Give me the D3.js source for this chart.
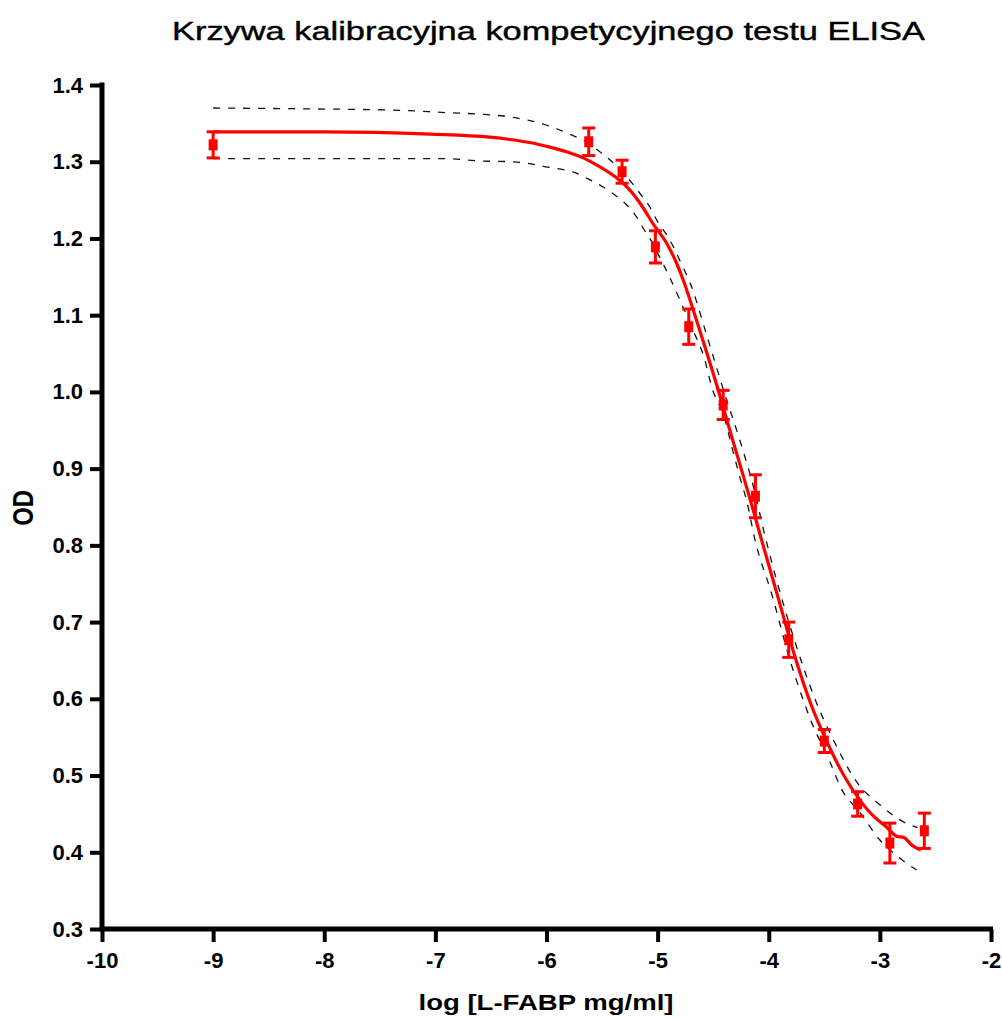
<!DOCTYPE html>
<html>
<head>
<meta charset="utf-8">
<script src="https://cdn.jsdelivr.net/npm/d3@7"></script>
<style>
  html, body { margin: 0; padding: 0; background: #fff; }
  svg { display: block; font-family: "Liberation Sans", Arial, sans-serif; }
</style>
</head>
<body>
<svg id="chart" width="1002" height="1017"></svg>
<script>
// Standards: log concentration, mean OD and its error
const logConc = [-9.0, -5.62, -5.32, -5.02, -4.72, -4.41, -4.12, -3.82, -3.50, -3.20, -2.91, -2.60];
const odMean  = [1.322, 1.326, 1.287, 1.189, 1.085, 0.983, 0.864, 0.677, 0.545, 0.463, 0.412, 0.428];
const odError = [0.017, 0.018, 0.015, 0.021, 0.023, 0.019, 0.028, 0.023, 0.015, 0.016, 0.026, 0.023];

// Fitted calibration curve
const fitX = [-9.00, -8.00, -7.05, -6.51, -6.33, -6.15, -5.97, -5.82, -5.67, -5.55, -5.37, -5.25, -5.135, -5.045, -4.92, -4.83, -4.76, -4.68, -4.59, -4.46, -4.34, -4.22, -4.15, -4.08, -3.91, -3.76, -3.615, -3.47, -3.32, -3.18, -3.05, -2.94, -2.85, -2.78, -2.71, -2.63];
const fitY = [1.339, 1.339, 1.336, 1.332, 1.329, 1.325, 1.319, 1.313, 1.305, 1.296, 1.279, 1.263, 1.241, 1.220, 1.194, 1.168, 1.142, 1.107, 1.066, 1.005, 0.945, 0.886, 0.851, 0.815, 0.729, 0.653, 0.591, 0.542, 0.499, 0.468, 0.446, 0.433, 0.421, 0.419, 0.409, 0.403];

// 95% confidence band of the fit
const upperX = [-9.00, -8.22, -7.32, -6.90, -6.60, -6.31, -6.03, -5.91, -5.76, -5.63, -5.52, -5.41, -5.32, -5.23, -5.14, -5.07, -5.00, -4.92, -4.85, -4.79, -4.71, -4.55, -4.40, -4.26, -4.13, -4.04, -3.93, -3.77, -3.59, -3.41, -3.20, -3.00, -2.78, -2.66];
const upperY = [1.370, 1.369, 1.367, 1.364, 1.362, 1.358, 1.349, 1.343, 1.334, 1.325, 1.313, 1.300, 1.287, 1.272, 1.255, 1.241, 1.222, 1.205, 1.187, 1.168, 1.143, 1.070, 0.999, 0.937, 0.872, 0.816, 0.755, 0.677, 0.602, 0.544, 0.490, 0.462, 0.439, 0.432];
const lowerX = [-9.00, -6.90, -6.60, -6.31, -6.17, -6.03, -5.90, -5.75, -5.63, -5.49, -5.37, -5.28, -5.19, -5.12, -5.045, -4.99, -4.91, -4.80, -4.69, -4.58, -4.51, -4.40, -4.33, -4.26, -4.19, -4.13, -3.97, -3.81, -3.72, -3.63, -3.45, -3.34, -3.18, -3.00, -2.80, -2.67];
const lowerY = [1.304, 1.304, 1.301, 1.300, 1.298, 1.294, 1.291, 1.286, 1.278, 1.267, 1.255, 1.244, 1.228, 1.211, 1.194, 1.178, 1.155, 1.120, 1.083, 1.044, 1.005, 0.967, 0.927, 0.889, 0.853, 0.811, 0.735, 0.651, 0.611, 0.575, 0.518, 0.481, 0.452, 0.416, 0.390, 0.377];

const xTicks = [-10, -9, -8, -7, -6, -5, -4, -3, -2];
const yTicks = [0.3, 0.4, 0.5, 0.6, 0.7, 0.8, 0.9, 1.0, 1.1, 1.2, 1.3, 1.4];

const titleText = "Krzywa kalibracyjna kompetycyjnego testu ELISA";
const xLabel = "log [L-FABP mg/ml]";
const yLabel = "OD";

const svg = d3.select("#chart");

const x = d3.scaleLinear().domain([-10, -2]).range([102, 991]);
const y = d3.scaleLinear().domain([0.3, 1.4]).range([929, 85]);

// Title (wide lettering)
svg.append("text")
  .attr("x", 548.5).attr("y", 40)
  .attr("text-anchor", "middle")
  .attr("font-size", 25)
  .attr("textLength", 753)
  .attr("lengthAdjust", "spacingAndGlyphs")
  .attr("fill", "#000")
  .attr("stroke", "#000")
  .attr("stroke-width", 0.4)
  .text(titleText);

// Confidence band (dashed)
const zip = (xs, ys) => xs.map((v, i) => [v, ys[i]]);
const line = d3.line().x(d => x(d[0])).y(d => y(d[1])).curve(d3.curveMonotoneX);

[zip(upperX, upperY), zip(lowerX, lowerY)].forEach(band => {
  svg.append("path")
    .attr("d", line(band))
    .attr("fill", "none")
    .attr("stroke", "#111")
    .attr("stroke-width", 1.3)
    .attr("stroke-dasharray", "7,8");
});

// Fitted curve
svg.append("path")
  .attr("d", line(zip(fitX, fitY)))
  .attr("fill", "none")
  .attr("stroke", "#ff0000")
  .attr("stroke-width", 3.2)
  .attr("stroke-linejoin", "round");

// Error bars and markers
const pts = logConc.map((v, i) => ({ x: v, y: odMean[i], e: odError[i] }));
const g = svg.append("g").attr("fill", "#ff0000").attr("stroke", "#ff0000");
pts.forEach(p => {
  const cx = x(p.x), top = y(p.y + p.e), bot = y(p.y - p.e);
  g.append("line").attr("x1", cx).attr("x2", cx).attr("y1", top).attr("y2", bot).attr("stroke-width", 3);
  g.append("line").attr("x1", cx - 6.5).attr("x2", cx + 6.5).attr("y1", top).attr("y2", top).attr("stroke-width", 3);
  g.append("line").attr("x1", cx - 6.5).attr("x2", cx + 6.5).attr("y1", bot).attr("y2", bot).attr("stroke-width", 3);
  g.append("rect").attr("x", cx - 4.5).attr("y", y(p.y) - 5.5).attr("width", 9).attr("height", 11).attr("stroke", "none");
});

// Axes
const yAxis = d3.axisLeft(y).tickValues(yTicks).tickFormat(d3.format(".1f"))
  .tickSize(12).tickSizeOuter(0).tickPadding(7);
const xAxis = d3.axisBottom(x).tickValues(xTicks).tickFormat(d => String(d))
  .tickSize(13).tickSizeOuter(0).tickPadding(10);

const gy = svg.append("g").attr("transform", "translate(102,0)").call(yAxis);
const gx = svg.append("g").attr("transform", "translate(0,929)").call(xAxis);

[gy, gx].forEach(ax => {
  ax.select(".domain").attr("stroke", "#000").attr("stroke-width", 5);
  ax.selectAll(".tick line").attr("stroke", "#000").attr("stroke-width", 4);
  ax.selectAll(".tick text")
    .attr("fill", "#000")
    .attr("font-size", 22)
    .attr("font-weight", "bold")
    .attr("font-family", "'Liberation Sans', Arial, sans-serif");
});
// axis lines meet at the corner
gy.select(".domain").attr("d", "M0,82.5V931.5");
gx.select(".domain").attr("d", "M99.5,0H993");

// Axis titles
svg.append("text")
  .attr("x", 546).attr("y", 1010)
  .attr("text-anchor", "middle")
  .attr("font-size", 22)
  .attr("font-weight", "bold")
  .attr("textLength", 255)
  .attr("lengthAdjust", "spacingAndGlyphs")
  .text(xLabel);

svg.append("text")
  .attr("transform", "translate(33,508) rotate(-90) scale(1.08,1.37)")
  .attr("text-anchor", "middle")
  .attr("font-size", 22)
  .attr("font-weight", "bold")
  .text(yLabel);
</script>
</body>
</html>
